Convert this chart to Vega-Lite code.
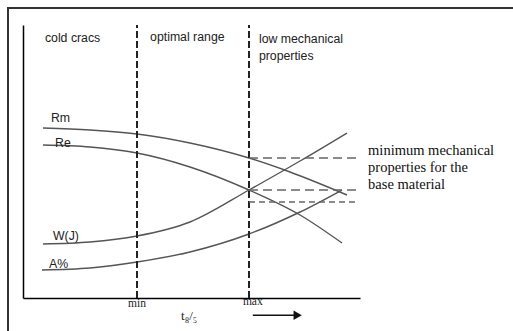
{
  "$schema": "https://vega.github.io/schema/vega-lite/v6.json",
  "autosize": "none",
  "width": 337,
  "height": 273,
  "padding": {"left": 23, "top": 25, "right": 153, "bottom": 33},
  "background": "white",
  "config": {"view": {"stroke": null}},
  "datasets": {
    "curves": [
      {"s": "Rm", "x": 5.93, "y": 62.27}, {"s": "Rm", "x": 19.88, "y": 61.54}, {"s": "Rm", "x": 33.83, "y": 60.07}, {"s": "Rm", "x": 49.55, "y": 56.78}, {"s": "Rm", "x": 67.06, "y": 51.28}, {"s": "Rm", "x": 79.23, "y": 46.15}, {"s": "Rm", "x": 96.14, "y": 37.73},
      {"s": "Re", "x": 5.93, "y": 56.04}, {"s": "Re", "x": 19.88, "y": 55.31}, {"s": "Re", "x": 33.83, "y": 53.11}, {"s": "Re", "x": 49.55, "y": 47.99}, {"s": "Re", "x": 67.06, "y": 39.56}, {"s": "Re", "x": 82.2, "y": 30.4}, {"s": "Re", "x": 94.66, "y": 20.15},
      {"s": "W(J)", "x": 5.93, "y": 19.78}, {"s": "W(J)", "x": 19.88, "y": 20.51}, {"s": "W(J)", "x": 33.83, "y": 22.71}, {"s": "W(J)", "x": 49.55, "y": 27.84}, {"s": "W(J)", "x": 67.06, "y": 39.56}, {"s": "W(J)", "x": 82.2, "y": 50.18}, {"s": "W(J)", "x": 96.14, "y": 60.44},
      {"s": "A%", "x": 5.64, "y": 10.26}, {"s": "A%", "x": 19.88, "y": 10.99}, {"s": "A%", "x": 33.83, "y": 13.19}, {"s": "A%", "x": 49.55, "y": 16.85}, {"s": "A%", "x": 67.06, "y": 23.44}, {"s": "A%", "x": 82.2, "y": 31.5}, {"s": "A%", "x": 94.66, "y": 39.56}
    ],
    "vlines": [{"x": 33.83, "y": 0, "y2": 100}, {"x": 67.06, "y": 0, "y2": 100}],
    "hlines": [
      {"x": 67.06, "x2": 99.1, "y": 51.28, "k": "a"},
      {"x": 67.06, "x2": 99.1, "y": 39.56, "k": "a"},
      {"x": 67.06, "x2": 99.1, "y": 35.16, "k": "b"}
    ],
    "sans": [
      {"t": "Rm", "x": 8.3, "y": 65.9},
      {"t": "Re", "x": 9.5, "y": 56.8},
      {"t": "W(J)", "x": 8.9, "y": 22.7},
      {"t": "A%", "x": 7.7, "y": 12.5},
      {"t": "cold cracs", "x": 6.5, "y": 95.2},
      {"t": "optimal range", "x": 37.7, "y": 95.6},
      {"t": "low mechanical", "x": 70.0, "y": 94.9},
      {"t": "properties", "x": 70.0, "y": 88.6}
    ],
    "serif": [
      {"t": "minimum mechanical", "x": 102.4, "y": 53.8},
      {"t": "properties for the", "x": 102.4, "y": 47.6},
      {"t": "base material", "x": 102.4, "y": 41.4}
    ],
    "ticks": [
      {"t": "min", "x": 33.83, "y": -2.2},
      {"t": "max", "x": 68.2, "y": -1.5}
    ],
    "frame": [{"x": -4.45, "x2": 150, "y": 106.2, "y2": -20}],
    "arrow": [{"x": 68.2, "x2": 80.5, "y": -6.3}],
    "head": [{"x": 81.5, "y": -6.3}],
    "tlabel": [{"t": "t₈/₅", "x": 46.9, "y": -6.6}]
  },
  "layer": [
    {
      "data": {"name": "frame"},
      "mark": {"type": "rect", "fill": null, "stroke": "#333333", "strokeWidth": 2, "clip": false},
      "encoding": {
        "x": {"field": "x", "type": "quantitative", "scale": {"domain": [0, 100], "nice": false, "zero": false}, "axis": {"domainColor": "black", "domainWidth": 1.5, "ticks": false, "labels": false, "grid": false, "title": null}},
        "x2": {"field": "x2"},
        "y": {"field": "y", "type": "quantitative", "scale": {"domain": [0, 100], "nice": false, "zero": false}, "axis": {"domainColor": "black", "domainWidth": 1.5, "ticks": false, "labels": false, "grid": false, "title": null}},
        "y2": {"field": "y2"}
      }
    },
    {
      "data": {"name": "curves"},
      "mark": {"type": "line", "interpolate": "monotone", "color": "#555555", "strokeWidth": 1.4},
      "encoding": {
        "x": {"field": "x", "type": "quantitative"},
        "y": {"field": "y", "type": "quantitative"},
        "detail": {"field": "s"}
      }
    },
    {
      "data": {"name": "vlines"},
      "mark": {"type": "rule", "color": "#222222", "strokeWidth": 2, "strokeDash": [7, 3]},
      "encoding": {
        "x": {"field": "x", "type": "quantitative"},
        "y": {"field": "y", "type": "quantitative"},
        "y2": {"field": "y2"}
      }
    },
    {
      "data": {"name": "hlines"},
      "mark": {"type": "rule", "color": "#666666", "strokeWidth": 1.5},
      "encoding": {
        "x": {"field": "x", "type": "quantitative"},
        "x2": {"field": "x2"},
        "y": {"field": "y", "type": "quantitative"},
        "strokeDash": {"field": "k", "type": "nominal", "scale": {"domain": ["a", "b"], "range": [[9, 5], [6, 4]]}, "legend": null}
      }
    },
    {
      "data": {"name": "sans"},
      "mark": {"type": "text", "align": "left", "baseline": "middle", "font": "Liberation Sans", "fontSize": 12.3, "color": "#222222"},
      "encoding": {
        "x": {"field": "x", "type": "quantitative"},
        "y": {"field": "y", "type": "quantitative"},
        "text": {"field": "t"}
      }
    },
    {
      "data": {"name": "serif"},
      "mark": {"type": "text", "align": "left", "baseline": "middle", "font": "Liberation Serif", "fontSize": 14.5, "color": "#111111"},
      "encoding": {
        "x": {"field": "x", "type": "quantitative"},
        "y": {"field": "y", "type": "quantitative"},
        "text": {"field": "t"}
      }
    },
    {
      "data": {"name": "ticks"},
      "mark": {"type": "text", "align": "center", "baseline": "middle", "font": "Liberation Serif", "fontSize": 11.5, "color": "#222222"},
      "encoding": {
        "x": {"field": "x", "type": "quantitative"},
        "y": {"field": "y", "type": "quantitative"},
        "text": {"field": "t"}
      }
    },
    {
      "data": {"name": "tlabel"},
      "mark": {"type": "text", "align": "left", "baseline": "middle", "font": "Liberation Serif", "fontSize": 13, "color": "#222222"},
      "encoding": {
        "x": {"field": "x", "type": "quantitative"},
        "y": {"field": "y", "type": "quantitative"},
        "text": {"field": "t"}
      }
    },
    {
      "data": {"name": "arrow"},
      "mark": {"type": "rule", "color": "#111111", "strokeWidth": 1.5},
      "encoding": {
        "x": {"field": "x", "type": "quantitative"},
        "x2": {"field": "x2"},
        "y": {"field": "y", "type": "quantitative"}
      }
    },
    {
      "data": {"name": "head"},
      "mark": {"type": "point", "shape": "triangle-right", "filled": true, "color": "#111111", "size": 90, "opacity": 1},
      "encoding": {
        "x": {"field": "x", "type": "quantitative"},
        "y": {"field": "y", "type": "quantitative"}
      }
    }
  ]
}
